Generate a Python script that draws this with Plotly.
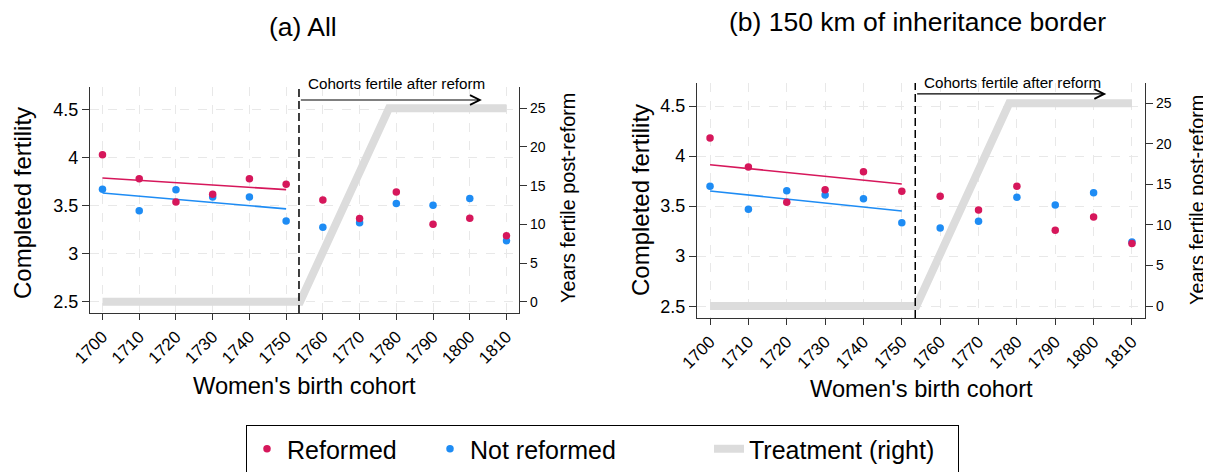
import plotly.graph_objects as go

# ---------------- data ----------------
cohorts = [1700, 1710, 1720, 1730, 1740, 1750, 1760, 1770, 1780, 1790, 1800, 1810]
x_tick_labels = [str(c) for c in cohorts]
left_ticks = [2.5, 3, 3.5, 4, 4.5]
left_tick_labels = ["2.5", "3", "3.5", "4", "4.5"]
right_ticks = [0, 5, 10, 15, 20, 25]

# panel (a) All
a_reformed = [4.027, 3.778, 3.536, 3.616, 3.778, 3.719, 3.557, 3.364, 3.640, 3.305, 3.367, 3.184]
a_not_reformed = [3.668, 3.446, 3.664, 3.588, 3.588, 3.339, 3.274, 3.319, 3.519, 3.502, 3.571, 3.132]
# panel (b) 150 km of inheritance border
b_reformed = [4.181, 3.891, 3.538, 3.665, 3.844, 3.648, 3.598, 3.462, 3.698, 3.259, 3.392, 3.126]
b_not_reformed = [3.698, 3.468, 3.655, 3.611, 3.575, 3.335, 3.282, 3.349, 3.588, 3.512, 3.635, 3.142]

# pre-reform linear fits
fit_x = [1700, 1750]
a_fit_reformed = [3.785, 3.664]
a_fit_not_reformed = [3.630, 3.464]
b_fit_reformed = [3.914, 3.721]
b_fit_not_reformed = [3.651, 3.452]

# treatment: years fertile post-reform (right axis)
treat_x = [1700, 1753.8, 1778, 1810]
treat_y = [0, 0, 25, 25]

reform_cohort = 1753.5
arrow_end = 1803.3
arrow_level = [26.07, 26.15]

# ---------------- style ----------------
RED = "#d6175b"
BLUE = "#1e8cf4"
GRAY = "#dcdcdc"
FONT = "Liberation Sans"
OFF = 8  # default page body margin
W, H = 1211 - OFF, 472 - OFF


def px_x(p):
    return (p - OFF) / W


def px_y(p):
    return 1 - (p - OFF) / H


fig = go.Figure()

panels = [
    dict(xa="x", ya="y", ya2="y2", rf=a_reformed, nr=a_not_reformed,
         frf=a_fit_reformed, fnr=a_fit_not_reformed, show=True),
    dict(xa="x2", ya="y3", ya2="y4", rf=b_reformed, nr=b_not_reformed,
         frf=b_fit_reformed, fnr=b_fit_not_reformed, show=False),
]

for p in panels:
    fig.add_trace(go.Scatter(x=treat_x, y=treat_y, mode="lines", name="Treatment (right)",
                             line=dict(color=GRAY, width=8), xaxis=p["xa"], yaxis=p["ya2"],
                             showlegend=p["show"], legendrank=3, legendwidth=204,
                             hoverinfo="skip"))
    fig.add_trace(go.Scatter(x=fit_x, y=p["fnr"], mode="lines", line=dict(color=BLUE, width=1.6),
                             xaxis=p["xa"], yaxis=p["ya"], showlegend=False))
    fig.add_trace(go.Scatter(x=fit_x, y=p["frf"], mode="lines", line=dict(color=RED, width=1.6),
                             xaxis=p["xa"], yaxis=p["ya"], showlegend=False))
    fig.add_trace(go.Scatter(x=cohorts, y=p["nr"], mode="markers", name="Not reformed",
                             marker=dict(color=BLUE, size=7.5), xaxis=p["xa"], yaxis=p["ya"],
                             showlegend=p["show"], legendrank=2, legendwidth=234))
    fig.add_trace(go.Scatter(x=cohorts, y=p["rf"], mode="markers", name="Reformed",
                             marker=dict(color=RED, size=7.5), xaxis=p["xa"], yaxis=p["ya"],
                             showlegend=p["show"], legendrank=1, legendwidth=138))

axis_common = dict(showline=True, linecolor="#333333", linewidth=1.3, ticks="outside",
                   tickcolor="#333333", tickwidth=1.3, zeroline=False, automargin=False,
                   tickfont=dict(family=FONT, color="black"))

x_range = [1696.6, 1813.4]
left_range = [2.382, 4.731]

layout_axes = {}
for i, (xdom, ydom, rr) in enumerate([
        ([px_x(90), px_x(519)], [px_y(313), px_y(87)], [-1.46, 27.75]),
        ([px_x(697), px_x(1145)], [px_y(318), px_y(83)], [-1.48, 27.5])]):
    xn = "xaxis" if i == 0 else "xaxis2"
    yl = "yaxis" if i == 0 else "yaxis3"
    yr = "yaxis2" if i == 0 else "yaxis4"
    ylid = "y" if i == 0 else "y3"
    xid = "x" if i == 0 else "x2"
    layout_axes[xn] = dict(axis_common, domain=xdom, range=x_range, anchor=ylid,
                           tickvals=cohorts, ticktext=x_tick_labels, tickangle=-45, ticklen=6,
                           showgrid=True, gridcolor="#e8e8e8", griddash="dash", gridwidth=1,
                           tickfont=dict(family=FONT, color="black", size=17))
    layout_axes[yl] = dict(axis_common, domain=ydom, range=left_range, anchor=xid,
                           tickvals=left_ticks, ticktext=left_tick_labels, ticklen=7,
                           showgrid=True, gridcolor="#e8e8e8", griddash="dash", gridwidth=1,
                           tickfont=dict(family=FONT, color="black", size=18))
    layout_axes[yr] = dict(axis_common, domain=ydom, range=rr, anchor=xid, side="right",
                           overlaying=ylid, tickvals=right_ticks, ticklen=7, showgrid=False,
                           tickfont=dict(family=FONT, color="black", size=14))

fig.update_layout(**layout_axes)

shapes = []
annotations = []
centers = [(304.5, 386, 22, 203, 568, 198), (921.5, 389, 641, 200, 1197, 200)]
titles = [("(a) All", 303.3, 26.7), ("(b) 150 km of inheritance border", 917.8, 21.7)]
for i in range(2):
    xid = "x" if i == 0 else "x2"
    yid = "y" if i == 0 else "y3"
    y2id = "y2" if i == 0 else "y4"
    shapes.append(dict(type="line", xref=xid, yref=yid + " domain", x0=reform_cohort,
                       x1=reform_cohort, y0=0, y1=1, line=dict(color="black", width=1.5,
                                                               dash="8px,4px")))
    annotations.append(dict(x=arrow_end, y=arrow_level[i], xref=xid, yref=y2id,
                            ax=reform_cohort + 0.1, ay=arrow_level[i], axref=xid, ayref=y2id,
                            showarrow=True, arrowhead=5, arrowsize=1.6, arrowwidth=1.2,
                            arrowcolor="black", text=""))
    ty = [84, 82.5][i]
    annotations.append(dict(x=1755.3, y=px_y(ty), xref=xid, yref="paper", text="Cohorts fertile after reform",
                            showarrow=False, xanchor="left", yanchor="middle",
                            font=dict(family=FONT, size=15.2, color="black")))
    cx, cy, lx, ly, rx, ry = centers[i]
    annotations.append(dict(x=px_x(cx), y=px_y(cy), xref="paper", yref="paper",
                            xanchor="center", yanchor="middle",
                            text="Women's birth cohort", showarrow=False,
                            font=dict(family=FONT, size=23.7, color="black")))
    annotations.append(dict(x=px_x(lx), y=px_y(ly), xref="paper", yref="paper",
                            xanchor="center", yanchor="middle",
                            text="Completed fertility", showarrow=False, textangle=-90,
                            font=dict(family=FONT, size=24, color="black")))
    annotations.append(dict(x=px_x(rx), y=px_y(ry), xref="paper", yref="paper",
                            xanchor="center", yanchor="middle",
                            text="Years fertile post-reform", showarrow=False, textangle=-90,
                            font=dict(family=FONT, size=19.8, color="black")))
    t, tx, tyy = titles[i]
    annotations.append(dict(x=px_x(tx), y=px_y(tyy), xref="paper", yref="paper", text=t,
                            xanchor="center", yanchor="middle",
                            showarrow=False, font=dict(family=FONT, size=26.5, color="black")))

fig.update_layout(
    width=W, height=H, margin=dict(l=0, r=0, t=0, b=0, autoexpand=False),
    paper_bgcolor="white", plot_bgcolor="white",
    font=dict(family=FONT, color="black"),
    shapes=shapes, annotations=annotations,
    legend=dict(orientation="h", x=px_x(246), y=px_y(425), xanchor="left", yanchor="top",
                bordercolor="black", borderwidth=1, font=dict(family=FONT, size=25, color="black"),
                bgcolor="white", traceorder="normal"),
    showlegend=True,
)

fig.write_html("out.html")
